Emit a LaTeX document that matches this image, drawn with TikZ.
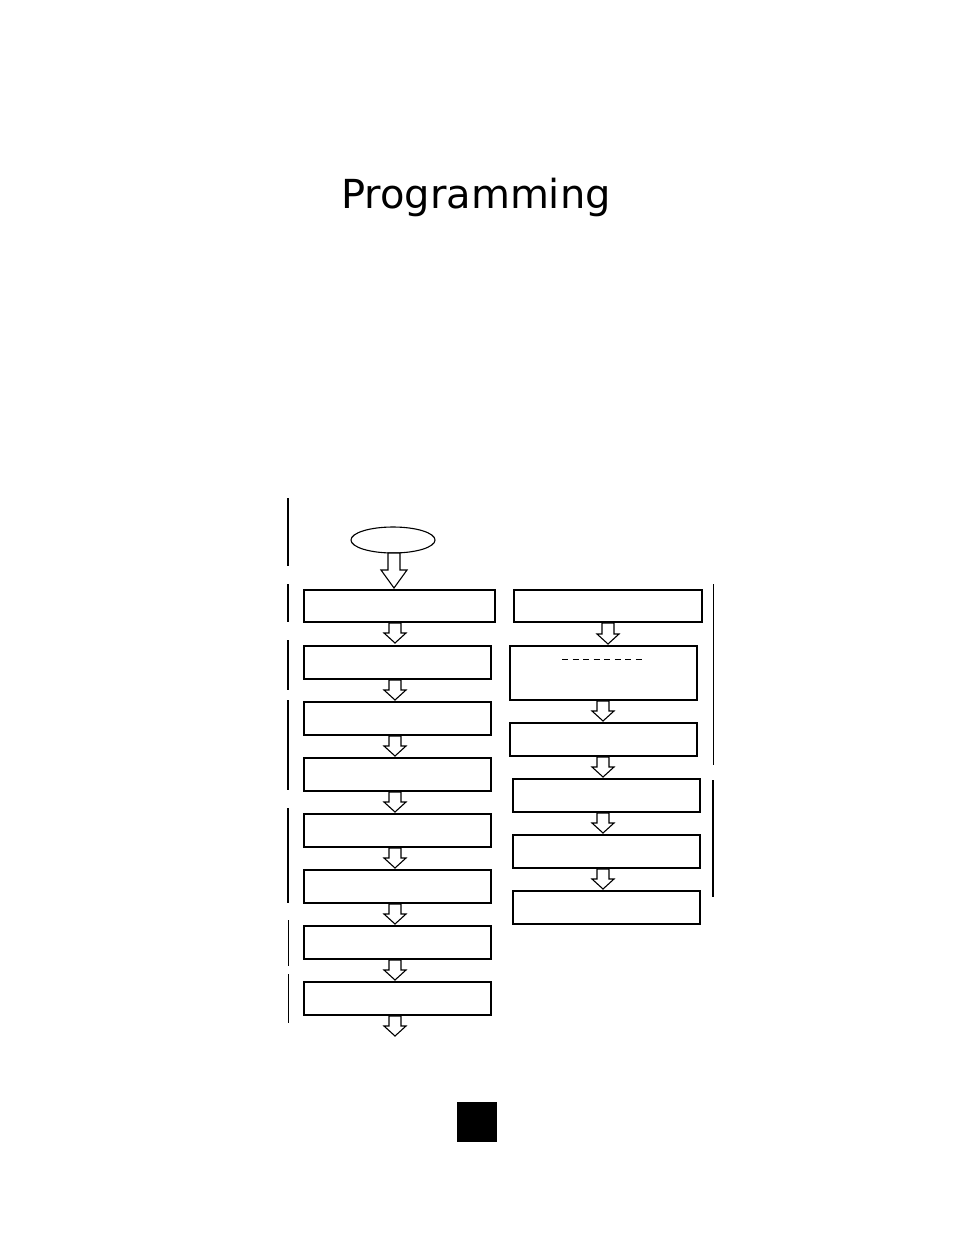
\documentclass[tikz,border=0pt]{standalone}
\usepackage{fontspec}
\setmainfont{DejaVu Sans}
\begin{document}
\begin{tikzpicture}[x=1pt,y=-1pt,
  box/.style={draw,line width=1.3pt,fill=white},
  bar/.style={line width=1.6pt},
  tbar/.style={line width=0.9pt}]
\useasboundingbox (0,0) rectangle (954,1235);
\fill[white] (0,0) rectangle (954,1235);
\node[font=\fontsize{40}{44}\selectfont] (title) at (476,197) {Programming};
\newcommand{\bx}[5]{\draw[box] (#2,#3) rectangle (#4,#5) coordinate (#1);}
\newcommand{\barrow}[4]{% x, ytop, ybot, halfshaft
  \draw[line width=1.1pt,fill=white,line join=miter]
   (#1-#4,#2) -- (#1+#4,#2) -- (#1+#4,#3-10) -- (#1+11,#3-10) -- (#1,#3) -- (#1-11,#3-10) -- (#1-#4,#3-10) -- cycle;}
\draw[line width=1.1pt] (393,540) ellipse [x radius=42,y radius=13];
\node (start) at (393,540) {};
\draw[line width=1.1pt,fill=white] (388,553) -- (400,553) -- (400,570) -- (407,570) -- (394,588) -- (381,570) -- (388,570) -- cycle;
\bx{L1}{304}{590}{495}{622}
\bx{L2}{304}{646}{491}{679}
\bx{L3}{304}{702}{491}{735}
\bx{L4}{304}{758}{491}{791}
\bx{L5}{304}{814}{491}{847}
\bx{L6}{304}{870}{491}{903}
\bx{L7}{304}{926}{491}{959}
\bx{L8}{304}{982}{491}{1015}
\bx{R1}{514}{590}{702}{622}
\bx{R2}{510}{646}{697}{700}
\bx{R3}{510}{723}{697}{756}
\bx{R4}{513}{779}{700}{812}
\bx{R5}{513}{835}{700}{868}
\bx{R6}{513}{891}{700}{924}
\draw[line width=0.8pt,dash pattern=on 6pt off 4.5pt] (562,659) -- (643,659);
\foreach \y in {623,680,736,792,848,904,960,1016} {\barrow{395}{\y}{\y+20}{6}}
\barrow{608}{623}{644}{6}
\barrow{603}{701}{721}{6}
\barrow{603}{757}{777}{6}
\barrow{603}{813}{833}{6}
\barrow{603}{869}{889}{6}
\draw[bar] (288,498) -- (288,566);
\draw[bar] (288,584) -- (288,622);
\draw[bar] (288,640) -- (288,690);
\draw[bar] (288,700) -- (288,790);
\draw[bar] (288,808) -- (288,903);
\draw[tbar] (288,920) -- (288,966);
\draw[tbar] (288,974) -- (288,1023);
\draw[tbar] (713,584) -- (713,765);
\draw[bar] (713,780) -- (713,897);
\fill (457,1102) rectangle (497,1142) coordinate (pg);
\end{tikzpicture}
\end{document}
